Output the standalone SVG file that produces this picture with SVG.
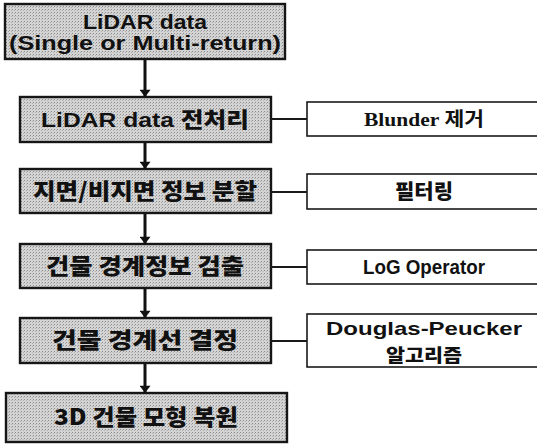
<svg xmlns="http://www.w3.org/2000/svg" width="537" height="445" viewBox="0 0 537 445">
<style>
.main{fill:url(#dots);stroke:#161616;stroke-width:2.4}
.side{fill:#ffffff;stroke:#1a1a1a;stroke-width:1.6}
.t{font-family:"Liberation Sans","Noto Sans CJK KR",sans-serif;font-weight:bold;font-size:21px;fill:#111;text-anchor:middle}
.k{font-family:"Noto Sans CJK KR",sans-serif;font-weight:900;font-size:22px;fill:#111;text-anchor:middle}
.ts{font-family:"Liberation Serif","Noto Sans CJK KR",serif;font-weight:bold;font-size:19px;fill:#111;text-anchor:middle}
.tr{font-family:"Liberation Sans","Noto Sans CJK KR",sans-serif;font-weight:bold;font-size:20px;fill:#111;text-anchor:middle}
.kr{font-family:"Noto Sans CJK KR",sans-serif;font-weight:900;font-size:20px;fill:#111;text-anchor:middle}
.c{stroke:#1a1a1a;stroke-width:2;fill:none}
.a{stroke:#111;stroke-width:3;fill:none;marker-end:url(#ah)}
</style>
<defs>
<pattern id="dots" width="3" height="3" patternUnits="userSpaceOnUse">
<rect width="3" height="3" fill="#d4d4d4"/>
<rect x="0" y="0" width="1" height="1" fill="#8c8c8c"/>
<rect x="2" y="1" width="1" height="1" fill="#b0b0b0"/>
</pattern>
<marker id="ah" viewBox="0 0 10 15" refX="10" refY="7.5" markerWidth="15" markerHeight="11" markerUnits="userSpaceOnUse" orient="auto">
<path d="M0,0 L10,7.5 L0,15 z" fill="#111"/>
</marker>
</defs>
<g id="n1"><rect class="main" x="5" y="4" width="280" height="55"/><text class="t" x="145" y="29" textLength="124" lengthAdjust="spacingAndGlyphs">LiDAR data</text><text class="t" x="145" y="50" textLength="272" lengthAdjust="spacingAndGlyphs">(Single or Multi-return)</text></g>
<g id="n2"><rect class="main" x="20" y="97" width="251" height="45"/><text class="t" x="145" y="127" textLength="208" lengthAdjust="spacingAndGlyphs">LiDAR data <tspan style="font-family:'Noto Sans CJK KR',sans-serif;font-weight:900">전처리</tspan></text></g>
<g id="n3"><rect class="main" x="20" y="169" width="251" height="44"/><text class="k" x="145" y="199" textLength="224" lengthAdjust="spacingAndGlyphs">지면/비지면 정보 분할</text></g>
<g id="n4"><rect class="main" x="20" y="244" width="251" height="44"/><text class="k" x="145" y="274" textLength="198" lengthAdjust="spacingAndGlyphs">건물 경계정보 검출</text></g>
<g id="n5"><rect class="main" x="20" y="318" width="251" height="45"/><text class="k" x="145" y="348" textLength="186" lengthAdjust="spacingAndGlyphs">건물 경계선 결정</text></g>
<g id="n6"><rect class="main" x="6" y="393" width="281" height="49"/><text class="k" x="146" y="425" textLength="184" lengthAdjust="spacingAndGlyphs">3D 건물 모형 복원</text></g>
<g id="r1"><rect class="side" x="307" y="102" width="240" height="34"/><text class="ts" x="424" y="126" textLength="120" lengthAdjust="spacingAndGlyphs">Blunder 제거</text></g>
<g id="r2"><rect class="side" x="307" y="174" width="240" height="35"/><text class="kr" x="424" y="199" textLength="58" lengthAdjust="spacingAndGlyphs">필터링</text></g>
<g id="r3"><rect class="side" x="307" y="250" width="240" height="34"/><text class="tr" x="424" y="274" textLength="122" lengthAdjust="spacingAndGlyphs">LoG Operator</text></g>
<g id="r4"><rect class="side" x="307" y="314" width="240" height="53"/><text class="tr" x="424" y="335" style="font-size:19px" textLength="196" lengthAdjust="spacingAndGlyphs">Douglas-Peucker</text><text class="kr" x="424" y="362" style="font-size:18px" textLength="76" lengthAdjust="spacingAndGlyphs">알고리즘</text></g>
<g id="connectors">
<line class="a" x1="145" y1="60" x2="145" y2="97"/>
<line class="a" x1="145" y1="143" x2="145" y2="169"/>
<line class="a" x1="145" y1="214" x2="145" y2="244"/>
<line class="a" x1="145" y1="289" x2="145" y2="318"/>
<line class="a" x1="145" y1="364" x2="145" y2="393"/>
<line class="c" x1="271" y1="119" x2="307" y2="119"/>
<line class="c" x1="271" y1="192" x2="307" y2="192"/>
<line class="c" x1="271" y1="267" x2="307" y2="267"/>
<line class="c" x1="271" y1="341" x2="307" y2="341"/>
</g>
</svg>
